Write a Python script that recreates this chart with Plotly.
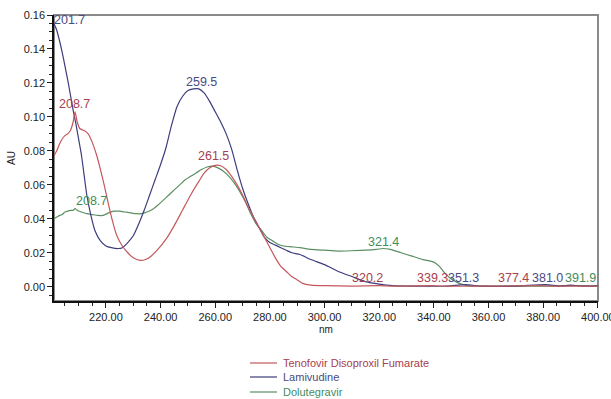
import plotly.graph_objects as go

# ---------------- data ----------------
series_names = ["Tenofovir Disoproxil Fumarate", "Lamivudine", "Dolutegravir"]
line_colors = ["#c4585c", "#3d3d7e", "#5b8f63"]
text_colors = ["#a8404e", "#4a4a82", "#3f8c5c"]

teno_nm = [201, 202, 203, 204, 205, 206, 207, 208, 208.7, 209.5, 210.5, 212, 213.5, 215, 216.5,
           218, 219.5, 221, 222.5, 224, 226, 228, 230, 232.5, 234.5, 236.5, 239, 242, 245, 248,
           251, 254, 256, 258, 260, 262, 264, 266, 268, 270, 272, 274, 276, 278, 280, 282, 284,
           286, 288, 290, 292, 295, 300, 310, 320.2, 325, 330, 339.3, 345, 355, 365, 377.4, 385,
           392, 400]
teno_au = [0.077, 0.080, 0.084, 0.087, 0.089, 0.090, 0.092, 0.097, 0.103, 0.097, 0.093, 0.092,
           0.090, 0.085, 0.078, 0.069, 0.059, 0.048, 0.038, 0.030, 0.024, 0.020, 0.017, 0.0155,
           0.016, 0.018, 0.022, 0.028, 0.036, 0.045, 0.054, 0.062, 0.067, 0.070, 0.0715, 0.0712,
           0.069, 0.065, 0.060, 0.054, 0.047, 0.041, 0.035, 0.029, 0.023, 0.017, 0.012, 0.009,
           0.006, 0.004, 0.002, 0.001, 0.0006, 0.0004, 0.0006, 0.0003, 0.0004, 0.0006, 0.0003,
           0.0003, 0.0004, 0.0006, 0.0003, 0.0004, 0.0003]

lami_nm = [201, 202, 203, 204, 205, 206, 207, 208, 209, 210, 211, 212, 213, 214.5, 216, 218, 220,
           222, 224.5, 226, 228, 230, 232, 234, 236, 238, 240, 242, 244, 246, 248, 250, 252, 254,
           256, 258, 260, 262, 264, 266, 268, 270, 272, 274, 276, 278, 280, 282, 284, 286, 288,
           291, 295, 300, 305, 310, 315, 320, 325, 335, 345, 351.3, 358, 370, 381.0, 386, 390,
           395, 400]
lami_au = [0.155, 0.151, 0.145, 0.138, 0.130, 0.122, 0.113, 0.104, 0.096, 0.087, 0.078, 0.066,
           0.054, 0.042, 0.033, 0.027, 0.024, 0.023, 0.0225, 0.023, 0.026, 0.030, 0.037, 0.045,
           0.054, 0.063, 0.072, 0.082, 0.095, 0.106, 0.112, 0.1155, 0.1165, 0.1165, 0.114,
           0.109, 0.103, 0.097, 0.090, 0.081, 0.069, 0.058, 0.049, 0.041, 0.035, 0.029, 0.026,
           0.0245, 0.023, 0.0215, 0.020, 0.019, 0.016, 0.013, 0.009, 0.006, 0.003, 0.0015,
           0.0006, 0.0003, 0.0004, 0.0012, 0.0003, 0.0004, 0.0012, 0.0004, 0.0009, 0.0003, 0.0006]

dolu_nm = [201, 202, 203, 204, 205, 206, 207, 208, 208.7, 209.5, 211, 213, 215, 217, 219, 221,
           223, 225, 227, 229, 231, 233, 235, 237, 239, 241, 243, 245, 247, 249, 251, 253, 255,
           257, 259, 261, 263, 265, 267, 269, 271, 273, 275, 277, 279, 281, 283, 285, 288, 291,
           295, 300, 305, 310, 315, 319, 321.4, 324, 328, 332, 336, 340, 342, 344, 346, 348, 350,
           353, 360, 370, 380, 391.9, 400]
dolu_au = [0.040, 0.041, 0.042, 0.0425, 0.044, 0.0445, 0.045, 0.045, 0.046, 0.045, 0.044, 0.043,
           0.0425, 0.042, 0.042, 0.0435, 0.0445, 0.0445, 0.044, 0.0435, 0.043, 0.043, 0.044,
           0.0455, 0.048, 0.051, 0.054, 0.057, 0.060, 0.063, 0.065, 0.067, 0.069, 0.0705, 0.071,
           0.070, 0.068, 0.065, 0.061, 0.056, 0.050, 0.043, 0.037, 0.033, 0.029, 0.027, 0.025,
           0.024, 0.0235, 0.023, 0.022, 0.0215, 0.021, 0.0212, 0.0215, 0.022, 0.0225, 0.022,
           0.020, 0.018, 0.016, 0.0145, 0.012, 0.008, 0.005, 0.003, 0.0015, 0.0005, 0.0003,
           0.0004, 0.0003, 0.0006, 0.0004]

# peak labels: text, series index, anchor wavelength, anchor absorbance
peak_text = ["201.7", "208.7", "259.5", "261.5", "208.7", "321.4", "320.2", "339.3", "351.3",
             "377.4", "381.0", "391.9"]
peak_series = [1, 0, 1, 0, 2, 2, 0, 0, 1, 0, 1, 2]
peak_x = [206.5, 208.4, 255.0, 259.5, 214.6, 321.6, 315.7, 339.6, 351.0, 369.0, 381.5, 393.6]
peak_y = [0.157, 0.1075, 0.1206, 0.077, 0.0507, 0.0263, 0.0054, 0.0054, 0.0054, 0.0054,
          0.0054, 0.0054]

x_range = [201, 400.05]
y_range = [-0.0084, 0.16]

FONT = "Liberation Sans, Arial, sans-serif"

fig = go.Figure()
for nm, au, name, col in [(dolu_nm, dolu_au, series_names[2], line_colors[2]),
                          (lami_nm, lami_au, series_names[1], line_colors[1]),
                          (teno_nm, teno_au, series_names[0], line_colors[0])]:
    fig.add_trace(go.Scatter(x=nm, y=au, mode="lines", name=name, showlegend=False,
                             line=dict(color=col, width=1.2, shape="spline", smoothing=0.6)))

for t, s, xx, yy in zip(peak_text, peak_series, peak_x, peak_y):
    fig.add_annotation(x=xx, y=yy, text=t, showarrow=False, xanchor="center", yanchor="middle",
                       font=dict(family=FONT, size=12.5, color=text_colors[s]))

# manual legend below plot
L, R, T, B = 54, 13, 15, 98
pw, ph = 611 - L - R, 399 - T - B
rows_px = [363, 377, 392]
for i, name in enumerate(series_names):
    yp = (399 - B - rows_px[i]) / ph
    fig.add_shape(type="line", xref="paper", yref="paper",
                  x0=(250 - L) / pw, x1=(277 - L) / pw, y0=yp, y1=yp,
                  line=dict(color=line_colors[i], width=1.2))
    fig.add_annotation(xref="paper", yref="paper", x=(281 - L) / pw, y=yp, text=name,
                       showarrow=False, xanchor="left", yanchor="middle",
                       font=dict(family=FONT, size=11, color=text_colors[i]))

# frame top/right
fig.add_shape(type="rect", xref="paper", yref="paper", x0=0, x1=1, y0=0, y1=1,
              line=dict(color="#8a8a8a", width=2), layer="below")

fig.update_layout(
    width=611, height=399,
    margin=dict(l=L, r=R, t=T, b=B, autoexpand=False),
    paper_bgcolor="white", plot_bgcolor="white",
    font=dict(family=FONT, size=11, color="#222"),
)
fig.update_xaxes(range=x_range, tick0=200, dtick=20, tickformat=".2f", ticks="outside",
                 ticklen=5, tickcolor="#222", showgrid=False, zeroline=False, automargin=False,
                 showline=True, linecolor="#111", linewidth=1.5, ticklabeloverflow="allow",
                 minor=dict(dtick=5, tick0=200, ticks="outside", ticklen=3, tickcolor="#222"),
                 title=dict(text="nm", font=dict(size=10, family=FONT), standoff=4),
                 tickfont=dict(size=11, family=FONT))
fig.update_yaxes(range=y_range, tick0=0, dtick=0.02, tickformat=".2f", ticks="outside",
                 ticklen=5, tickcolor="#222", showgrid=False, zeroline=False, automargin=False,
                 showline=True, linecolor="#111", linewidth=1.5,
                 minor=dict(dtick=0.005, ticks="outside", ticklen=3, tickcolor="#222"),
                 title=dict(text="AU", font=dict(size=10, family=FONT), standoff=6),
                 tickfont=dict(size=11, family=FONT))

fig.write_html("out.html")
